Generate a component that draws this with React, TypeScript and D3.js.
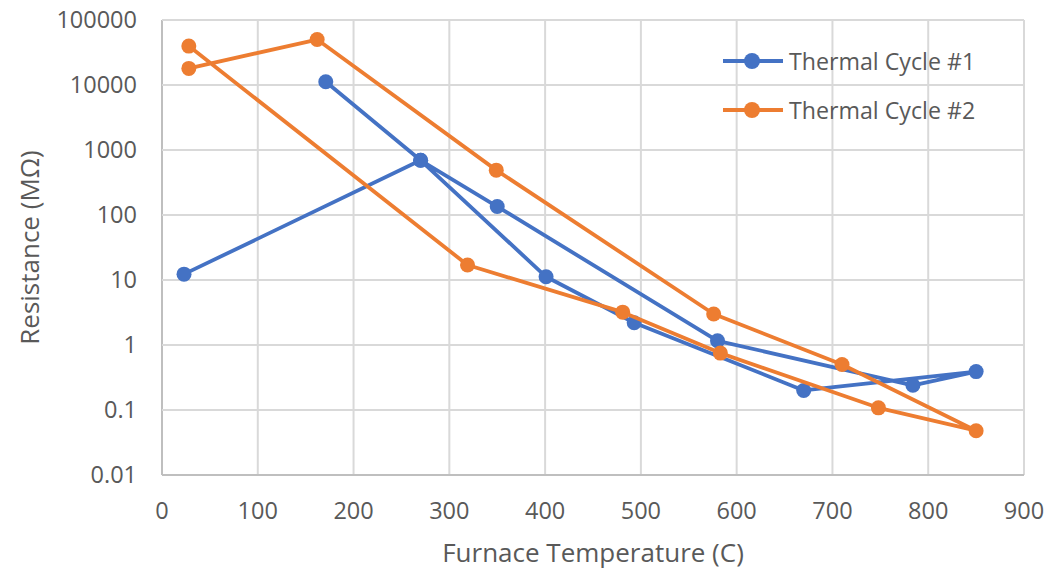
import React, { useRef, useEffect } from "react";
import { select, scaleLinear, scaleLog, line, format } from "d3";

// Thermal Cycle #1 (in measurement order)
const cycle1Temp = [23, 270, 350, 580, 784, 850, 670, 493, 401, 270, 171];
const cycle1Res = [12.3, 694, 135, 1.16, 0.24, 0.39, 0.2, 2.2, 11.2, 694, 11200];

// Thermal Cycle #2
const cycle2Temp = [28, 162, 349, 576, 710, 850, 748, 583, 481, 319, 28];
const cycle2Res = [18000, 50000, 490, 3.0, 0.5, 0.048, 0.108, 0.75, 3.2, 17, 39700];

const seriesNames = ["Thermal Cycle #1", "Thermal Cycle #2"];
const xTicks = [0, 100, 200, 300, 400, 500, 600, 700, 800, 900];
const yTicks = [0.01, 0.1, 1, 10, 100, 1000, 10000, 100000];

const xTitle = "Furnace Temperature (C)";
const yTitle = "Resistance (MΩ)";

const App = () => {
    const svgRef = useRef(null);
    const width = 1051;
    const height = 572;
    const plot = { left: 162, right: 1024, top: 20, bottom: 475 };
    const colors = ["#4472C4", "#ED7D31"];
    const font = "'Open Sans', sans-serif";

    useEffect(() => {
        const svg = select(svgRef.current);
        svg.selectAll("*").remove();

        const xScale = scaleLinear().domain([0, 900]).range([plot.left, plot.right]);
        const yScale = scaleLog().domain([0.01, 100000]).range([plot.bottom, plot.top]);

        svg.append("rect").attr("width", width).attr("height", height).attr("fill", "#fff");

        // gridlines
        const grid = svg.append("g");
        xTicks.forEach((t) => {
            grid.append("line")
                .attr("x1", xScale(t)).attr("x2", xScale(t))
                .attr("y1", plot.top).attr("y2", plot.bottom)
                .attr("stroke", t === 0 ? "#bfbfbf" : "#d9d9d9")
                .attr("stroke-width", 2);
        });
        yTicks.forEach((t) => {
            grid.append("line")
                .attr("x1", plot.left).attr("x2", plot.right)
                .attr("y1", yScale(t)).attr("y2", yScale(t))
                .attr("stroke", t === 0.01 ? "#bfbfbf" : "#d9d9d9")
                .attr("stroke-width", 2);
        });

        // tick labels
        const fmtY = (v) => (v >= 1 ? format("d")(v) : String(v));
        svg.append("g").selectAll("text").data(yTicks).enter().append("text")
            .attr("x", plot.left - 25)
            .attr("y", (d) => yScale(d) + 8)
            .attr("text-anchor", "end")
            .attr("font-family", font).attr("font-size", 23.5).attr("fill", "#595959")
            .text(fmtY);
        svg.append("g").selectAll("text").data(xTicks).enter().append("text")
            .attr("x", (d) => xScale(d))
            .attr("y", 519)
            .attr("text-anchor", "middle")
            .attr("font-family", font).attr("font-size", 23.5).attr("fill", "#595959")
            .text((d) => d);

        // axis titles
        svg.append("text")
            .attr("x", (plot.left + plot.right) / 2).attr("y", 562)
            .attr("text-anchor", "middle")
            .attr("font-family", font).attr("font-size", 26).attr("fill", "#595959")
            .text(xTitle);
        svg.append("text")
            .attr("transform", "translate(39," + (plot.top + plot.bottom) / 2 + ") rotate(-90)")
            .attr("text-anchor", "middle")
            .attr("font-family", font).attr("font-size", 26).attr("fill", "#595959")
            .text(yTitle);

        // series
        const series = [
            cycle1Temp.map((t, i) => [t, cycle1Res[i]]),
            cycle2Temp.map((t, i) => [t, cycle2Res[i]]),
        ];
        const myLine = line()
            .x((d) => xScale(d[0]))
            .y((d) => yScale(d[1]));

        series.forEach((data, k) => {
            const g = svg.append("g");
            g.append("path")
                .attr("d", myLine(data))
                .attr("fill", "none")
                .attr("stroke", colors[k])
                .attr("stroke-width", 3.8)
                .attr("stroke-linejoin", "round");
            g.selectAll("circle").data(data).enter().append("circle")
                .attr("cx", (d) => xScale(d[0]))
                .attr("cy", (d) => yScale(d[1]))
                .attr("r", 7.5)
                .attr("fill", colors[k]);
        });

        // legend
        const legend = svg.append("g");
        seriesNames.forEach((name, k) => {
            const ly = 61 + k * 49;
            legend.append("line")
                .attr("x1", 723).attr("x2", 783).attr("y1", ly).attr("y2", ly)
                .attr("stroke", colors[k]).attr("stroke-width", 3.8);
            legend.append("circle")
                .attr("cx", 752).attr("cy", ly).attr("r", 8).attr("fill", colors[k]);
            legend.append("text")
                .attr("x", 789).attr("y", ly + 8.5)
                .attr("font-family", font).attr("font-size", 23.2).attr("fill", "#595959")
                .text(name);
        });
    }, []);

    return (
        <svg
            ref={svgRef}
            width={width}
            height={height}
            style={{ position: "absolute", left: 0, top: 0 }}
        ></svg>
    );
};

export default App;
